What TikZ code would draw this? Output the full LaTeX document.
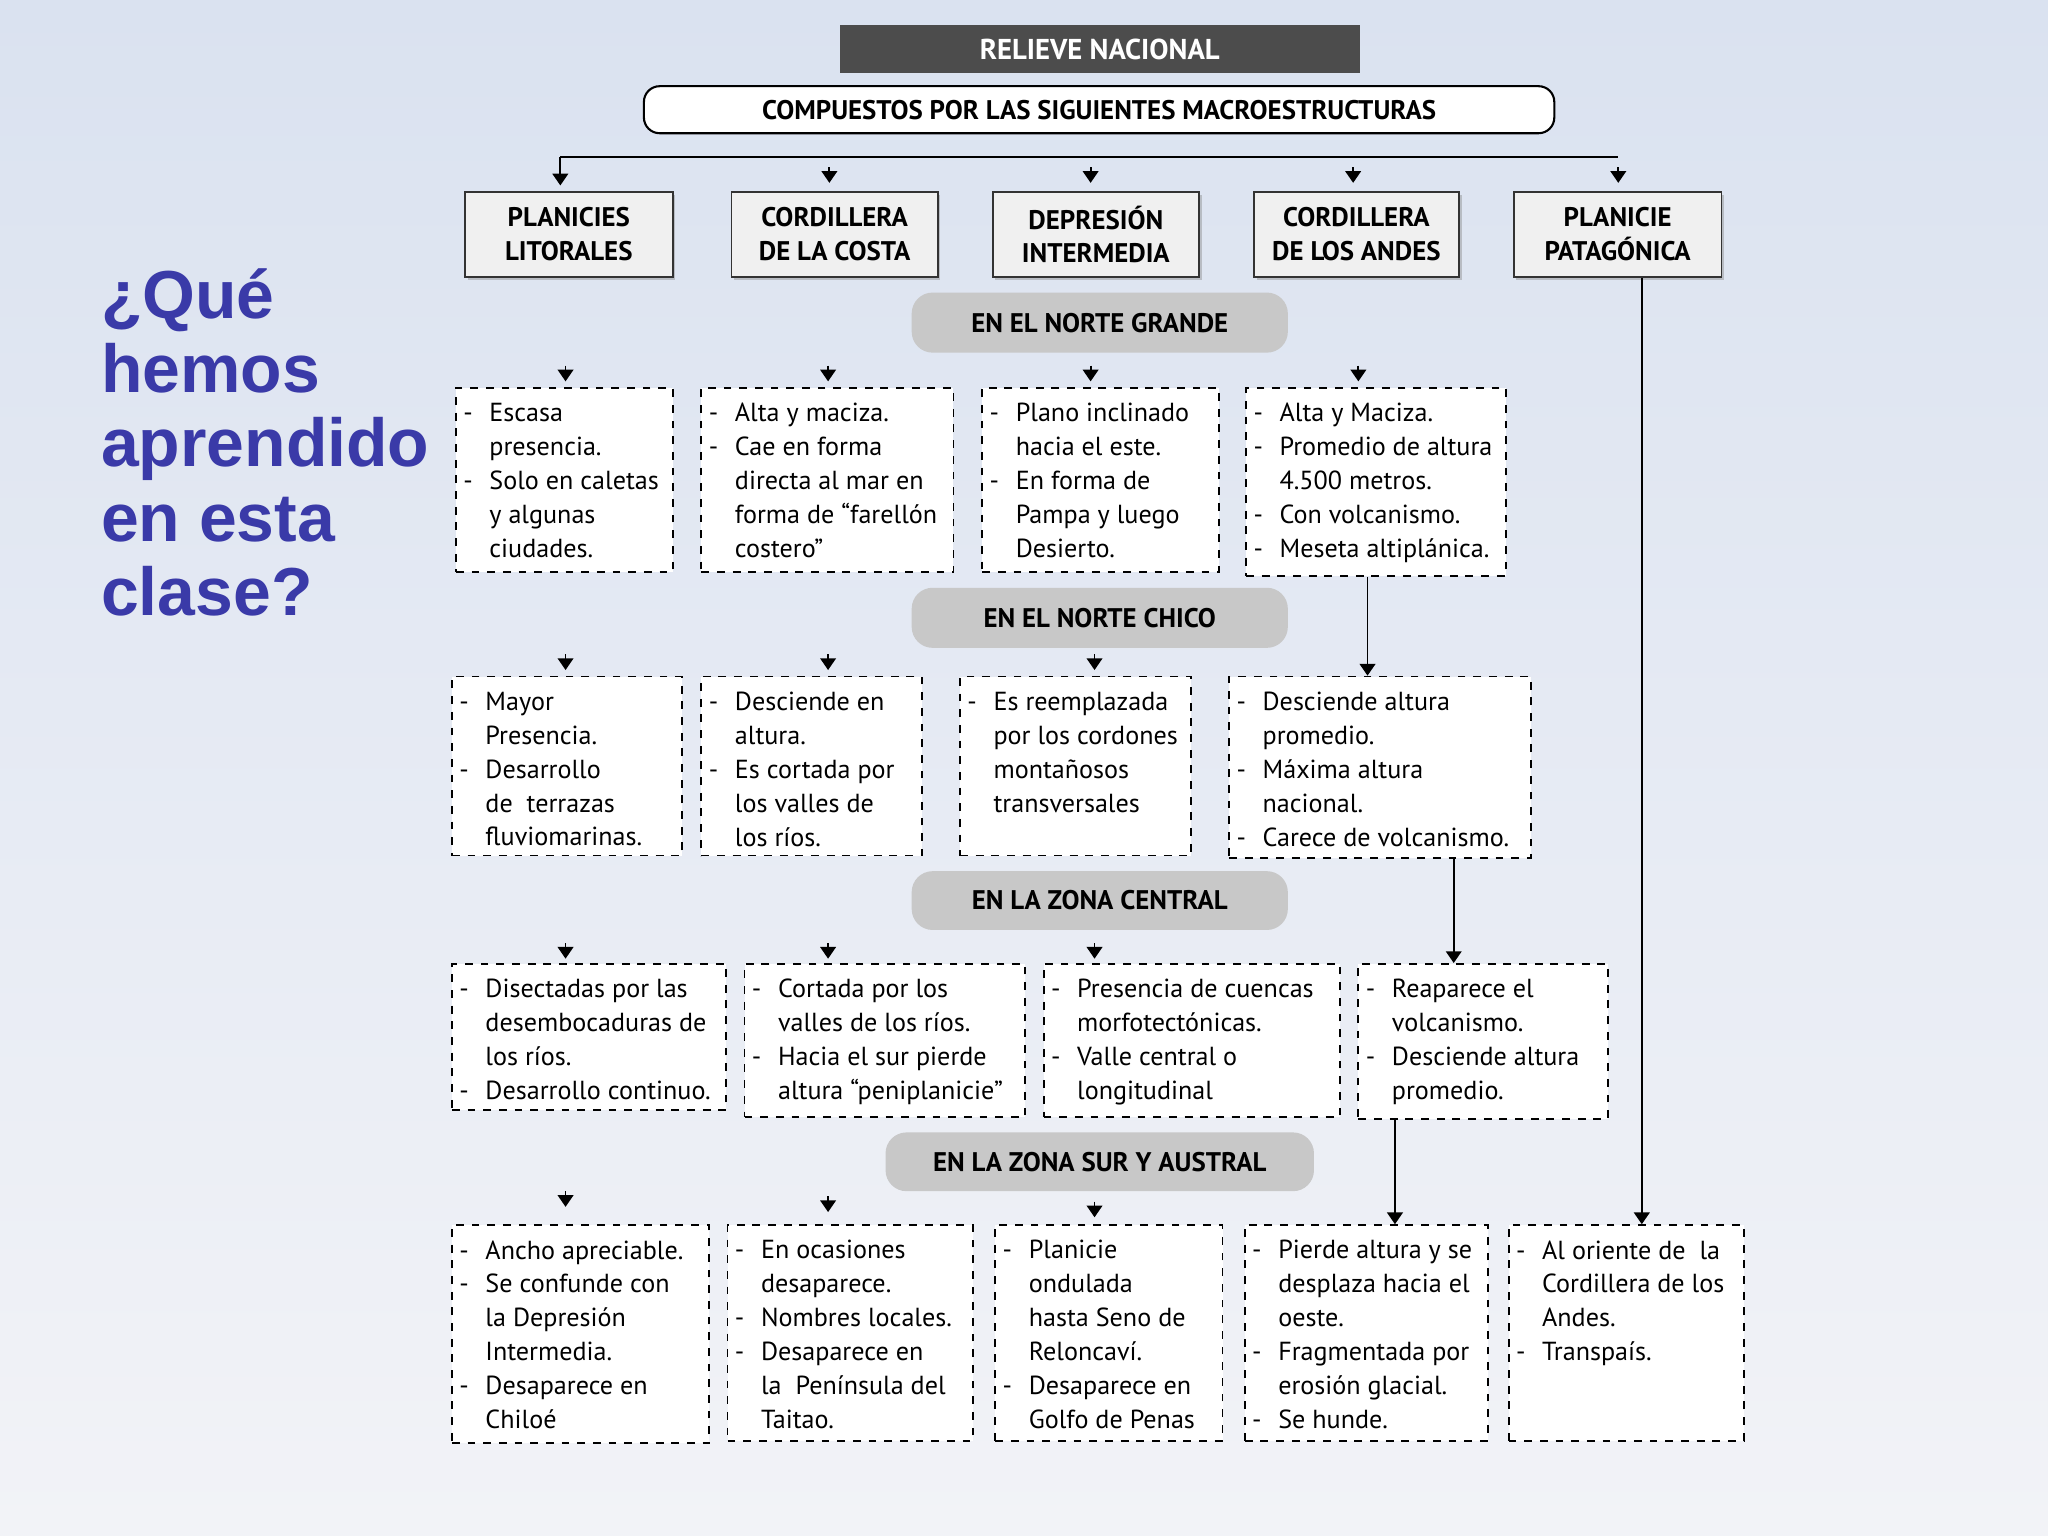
\documentclass[tikz,border=0pt]{standalone}
\usepackage{fontspec}
\setmainfont{PT Sans}
\newfontfamily\titfont{Liberation Sans}
\usetikzlibrary{arrows.meta,shadows}
\definecolor{ttl}{RGB}{58,58,168}
\definecolor{bannr}{RGB}{200,200,200}
\tikzset{
 dbox/.style={draw=black,dashed,fill=white,line width=0.7pt,inner sep=0pt},
 btxt/.style={anchor=north west,inner sep=0pt,align=left,font=\fontsize{10}{13}\selectfont},
 hbox/.style={draw=black!80,fill=black!6,line width=0.7pt,align=center,font=\bfseries\fontsize{10.3}{13}\selectfont,drop shadow={shadow xshift=1pt,shadow yshift=-1pt,opacity=0.4}},
 bann/.style={fill=bannr,rounded corners=8pt,font=\bfseries\fontsize{10.3}{12}\selectfont},
 arr/.style={-{Triangle[width=6pt,length=4.5pt]},line width=0.7pt},
}
\newcommand\dl[1]{\makebox[1em][l]{-}#1}
\newcommand\cl[1]{\hspace*{1em}#1}
% name x1 y1 x2 y2 content
\newcommand\bx[6]{\node[dbox,minimum width={0.5pt*(#4-#2)},minimum height={0.5pt*(#5-#3)}] (#1) at ({(#2+#4)/2},{(#3+#5)/2}) {};
 \node[btxt] at ([xshift=3pt,yshift=-6pt]#1.north west) {#6};}
\newcommand\hb[6]{\node[hbox,minimum width={0.5pt*(#4-#2)},minimum height={0.5pt*(#5-#3)}] (#1) at ({(#2+#4)/2},{(#3+#5)/2}) {#6};}
\newcommand\bn[6]{\node[bann,minimum width={0.5pt*(#4-#2)},minimum height={0.5pt*(#5-#3)}] (#1) at ({(#2+#4)/2},{(#3+#5)/2}) {#6};}
\newcommand\sa[3]{\coordinate (#1) at (#2,{#3-12}); \draw[arr] (#1) -- (#2,#3);}
\begin{document}
\begin{tikzpicture}[x=0.5pt,y=-0.5pt]
\shade[top color={rgb,255:red,218;green,226;blue,240},bottom color={rgb,255:red,242;green,243;blue,247}] (0,0) rectangle (1568,1176);
\useasboundingbox (0,0) rectangle (1568,1176);
% title
\node[anchor=north west,inner sep=0pt,align=left,text=ttl,font=\titfont\bfseries\fontsize{26}{28.5}\selectfont] (q) at (77,205) {¿Qué\\hemos\\aprendido\\en esta\\clase?};
\node[fill=black!70,text=white,font=\bfseries\fontsize{11}{13}\selectfont,minimum width=199pt,minimum height=18.5pt] (rn) at (842,37.5) {RELIEVE NACIONAL};
\node[draw=black,fill=white,rounded corners=6pt,line width=0.8pt,font=\bfseries\fontsize{10.3}{12}\selectfont,minimum width=348.5pt,minimum height=18pt] (cp) at (841.5,84) {COMPUESTOS POR LAS SIGUIENTES MACROESTRUCTURAS};
% headers
\hb{h1}{356}{147}{515}{212}{PLANICIES\\LITORALES}
\hb{h2}{560}{147}{718}{212}{CORDILLERA\\DE LA COSTA}
\hb{h3}{760}{147}{918}{212}{DEPRESIÓN\\INTERMEDIA}
\hb{h4}{960}{147}{1117}{212}{CORDILLERA\\DE LOS ANDES}
\hb{h5}{1159}{147}{1318}{212}{PLANICIE\\PATAGÓNICA}
\coordinate (tl) at (429,120); \coordinate (tr) at (1239,120);
\draw[line width=0.7pt] (tl) -- (tr);
\draw[arr] (tl) -- (429,142);
\sa{a2}{635}{140}\sa{a3}{835}{140}\sa{a4}{1036}{140}\sa{a5}{1239}{140}
% banners
\bn{b1}{698}{224}{986}{270}{EN EL NORTE GRANDE}
\bn{b2}{698}{450}{986}{496}{EN EL NORTE CHICO}
\bn{b3}{698}{667}{986}{712}{EN LA ZONA CENTRAL}
\bn{b4}{678}{867}{1006}{912}{EN LA ZONA SUR Y AUSTRAL}
% row 1
\sa{r1a}{433}{292}\sa{r1b}{634}{292}\sa{r1c}{835}{292}\sa{r1d}{1040}{292}
\bx{n1}{349}{297}{515}{438}{\dl{Escasa}\\\cl{presencia.}\\\dl{Solo en caletas}\\\cl{y algunas}\\\cl{ciudades.}}
\bx{n2}{537}{297}{730}{438}{\dl{Alta y maciza.}\\\dl{Cae en forma}\\\cl{directa al mar en}\\\cl{forma de “farellón}\\\cl{costero”}}
\bx{n3}{752}{297}{933}{438}{\dl{Plano inclinado}\\\cl{hacia el este.}\\\dl{En forma de}\\\cl{Pampa y luego}\\\cl{Desierto.}}
\bx{n4}{954}{297}{1153}{441}{\dl{Alta y Maciza.}\\\dl{Promedio de altura}\\\cl{4.500 metros.}\\\dl{Con volcanismo.}\\\dl{Meseta altiplánica.}}
% row 2
\sa{r2a}{433}{513}\sa{r2b}{634}{513}\sa{r2c}{838}{513}
\bx{c1}{346}{518}{522}{655}{\dl{Mayor}\\\cl{Presencia.}\\\dl{Desarrollo}\\\cl{de\ \ terrazas}\\\cl{fluviomarinas.}}
\bx{c2}{537}{518}{706}{655}{\dl{Desciende en}\\\cl{altura.}\\\dl{Es cortada por}\\\cl{los valles de}\\\cl{los ríos.}}
\bx{c3}{735}{518}{912}{655}{\dl{Es reemplazada}\\\cl{por los cordones}\\\cl{montañosos}\\\cl{transversales}}
\bx{c4}{941}{518}{1172}{657}{\dl{Desciende altura}\\\cl{promedio.}\\\dl{Máxima altura}\\\cl{nacional.}\\\dl{Carece de volcanismo.}}
\draw[arr] (n4.south-|1047,0) -- (c4.north-|1047,0);
% row 3
\sa{r3a}{433}{734}\sa{r3b}{634}{734}\sa{r3c}{838}{734}
\bx{z1}{346}{738}{556}{850}{\dl{Disectadas por las}\\\cl{desembocaduras de}\\\cl{los ríos.}\\\dl{Desarrollo continuo.}}
\bx{z2}{570}{738}{785}{855}{\dl{Cortada por los}\\\cl{valles de los ríos.}\\\dl{Hacia el sur pierde}\\\cl{altura “peniplanicie”}}
\bx{z3}{799}{738}{1026}{855}{\dl{Presencia de cuencas}\\\cl{morfotectónicas.}\\\dl{Valle central o}\\\cl{longitudinal}}
\bx{z4}{1040}{738}{1231}{857}{\dl{Reaparece el}\\\cl{volcanismo.}\\\dl{Desciende altura}\\\cl{promedio.}}
\draw[arr] (c4.south-|1113,0) -- (z4.north-|1113,0);
% row 4
\sa{r4a}{433}{924}\sa{r4b}{634}{928}\sa{r4c}{838}{932}
\bx{s1}{346}{938}{543}{1105}{\dl{Ancho apreciable.}\\\dl{Se confunde con}\\\cl{la Depresión}\\\cl{Intermedia.}\\\dl{Desaparece en}\\\cl{Chiloé}}
\bx{s2}{557}{938}{745}{1103}{\dl{En ocasiones}\\\cl{desaparece.}\\\dl{Nombres locales.}\\\dl{Desaparece en}\\\cl{la\ \ Península del}\\\cl{Taitao.}}
\bx{s3}{762}{938}{936}{1103}{\dl{Planicie}\\\cl{ondulada}\\\cl{hasta Seno de}\\\cl{Reloncaví.}\\\dl{Desaparece en}\\\cl{Golfo de Penas}}
\bx{s4}{953}{938}{1139}{1103}{\dl{Pierde altura y se}\\\cl{desplaza hacia el}\\\cl{oeste.}\\\dl{Fragmentada por}\\\cl{erosión glacial.}\\\dl{Se hunde.}}
\bx{s5}{1155}{938}{1335}{1103}{\dl{Al oriente de\ \ la}\\\cl{Cordillera de los}\\\cl{Andes.}\\\dl{Transpaís.}}
\draw[arr] (z4.south-|1068,0) -- (s4.north-|1068,0);
\draw[arr] (h5.south-|1257,0) -- (s5.north-|1257,0);
\end{tikzpicture}
\end{document}
